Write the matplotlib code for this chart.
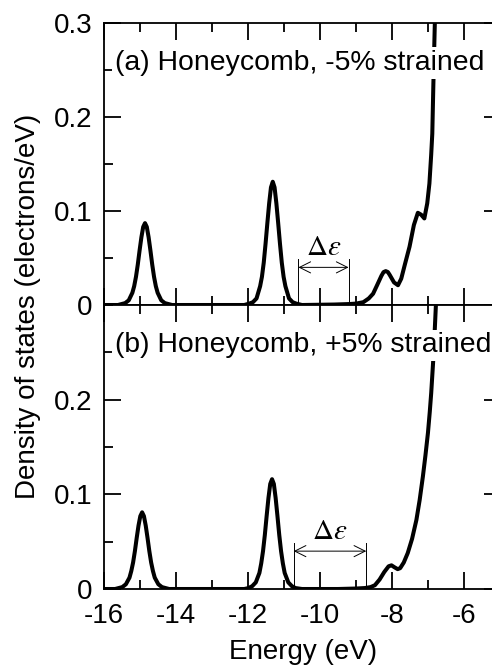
import matplotlib
matplotlib.use("Agg")
import matplotlib.pyplot as plt
from matplotlib.ticker import MultipleLocator

plt.rcParams['font.family'] = ['Liberation Sans', 'DejaVu Sans']
plt.rcParams['axes.unicode_minus'] = False
plt.rcParams['mathtext.fontset'] = 'stix'

# panel (a): -5% strained
energy_a = [-16.0, -15.6, -15.5, -15.4, -15.3, -15.2, -15.15, -15.1, -15.05, -15.0,
            -14.95, -14.9, -14.85, -14.8, -14.75, -14.7, -14.65, -14.6, -14.55, -14.5,
            -14.4, -14.3, -14.2, -14.1, -12.1,
            -11.96, -11.86, -11.76, -11.66, -11.61, -11.56, -11.51, -11.46, -11.41, -11.36,
            -11.31, -11.26, -11.21, -11.16, -11.11, -11.06, -11.01, -10.96, -10.86, -10.76,
            -10.66, -10.5, -9.6, -9.2, -9.0, -8.8, -8.65, -8.53, -8.42, -8.3,
            -8.24, -8.18, -8.12, -8.07, -7.95, -7.84, -7.75, -7.65, -7.52, -7.4,
            -7.29, -7.2, -7.11, -7.03, -6.97, -6.92, -6.89, -6.86, -6.82, -6.78]
dos_a = [0.0, 0.0, 0.001, 0.002, 0.005, 0.013, 0.020, 0.030, 0.043, 0.058,
         0.072, 0.083, 0.087, 0.083, 0.072, 0.058, 0.043, 0.030, 0.020, 0.013,
         0.005, 0.002, 0.001, 0.0, 0.0,
         0.0015, 0.003, 0.007, 0.020, 0.030, 0.045, 0.065, 0.087, 0.108, 0.125,
         0.131, 0.125, 0.108, 0.087, 0.065, 0.045, 0.030, 0.020, 0.007, 0.003,
         0.0015, 0.0, 0.0005, 0.001, 0.0015, 0.003, 0.007, 0.012, 0.021, 0.031,
         0.035, 0.036, 0.035, 0.032, 0.024, 0.021, 0.028, 0.043, 0.062, 0.085,
         0.098, 0.096, 0.092, 0.108, 0.129, 0.160, 0.182, 0.235, 0.299, 0.36]

# panel (b): +5% strained
energy_b = [-16.0, -15.68, -15.58, -15.48, -15.38, -15.28, -15.23, -15.18, -15.13, -15.08,
            -15.03, -14.98, -14.93, -14.88, -14.83, -14.78, -14.73, -14.68, -14.63, -14.58,
            -14.48, -14.38, -14.28, -14.18, -12.1,
            -11.98, -11.88, -11.78, -11.68, -11.63, -11.58, -11.53, -11.48, -11.43, -11.38,
            -11.33, -11.28, -11.23, -11.18, -11.13, -11.08, -11.03, -10.98, -10.88, -10.78,
            -10.68, -10.5, -9.5, -9.0, -8.76, -8.6, -8.48, -8.35, -8.22, -8.1,
            -8.02, -7.94, -7.85, -7.78, -7.68, -7.57, -7.45, -7.33, -7.24, -7.15,
            -7.08, -7.01, -6.96, -6.92, -6.86, -6.82, -6.79, -6.76]
dos_b = [0.0, 0.0, 0.001, 0.002, 0.005, 0.012, 0.019, 0.028, 0.040, 0.054,
         0.067, 0.077, 0.081, 0.077, 0.067, 0.054, 0.040, 0.028, 0.019, 0.012,
         0.005, 0.002, 0.001, 0.0, 0.0,
         0.001, 0.003, 0.007, 0.017, 0.027, 0.040, 0.057, 0.077, 0.096, 0.111,
         0.116, 0.111, 0.096, 0.077, 0.057, 0.040, 0.027, 0.017, 0.007, 0.003,
         0.001, 0.0, 0.0, 0.0005, 0.001, 0.002, 0.004, 0.010, 0.018, 0.024,
         0.025, 0.023, 0.021, 0.022, 0.028, 0.038, 0.053, 0.073, 0.094, 0.119,
         0.141, 0.165, 0.187, 0.207, 0.244, 0.275, 0.30, 0.34]

labels = ["(a) Honeycomb, -5% strained", "(b) Honeycomb, +5% strained"]
gap_a = [-10.60, -9.21]
gap_b = [-10.73, -8.72]

fig = plt.figure(figsize=(4.92, 6.68), dpi=100)
ax_a = fig.add_axes([103.5 / 492, 1 - 305 / 668, 397 / 492, 282.3 / 668])
ax_b = fig.add_axes([103.5 / 492, 1 - 589 / 668, 397 / 492, 284 / 668])

for ax, e, d, lab, gap, yt, ylab in [
        (ax_a, energy_a, dos_a, labels[0], gap_a, [0, 0.1, 0.2, 0.3], ['0', '0.1', '0.2', '0.3']),
        (ax_b, energy_b, dos_b, labels[1], gap_b, [0, 0.1, 0.2], ['0', '0.1', '0.2'])]:
    ax.plot(e, d, color='black', lw=2.9, solid_joinstyle='round')
    ax.set_xlim(-16, -5)
    ax.set_ylim(0, 0.3)
    ax.xaxis.set_major_locator(MultipleLocator(2))
    ax.xaxis.set_minor_locator(MultipleLocator(1))
    ax.set_yticks(yt)
    ax.set_yticklabels(ylab)
    ax.yaxis.set_minor_locator(MultipleLocator(0.05))
    ax.tick_params(which='both', direction='in', top=True, right=True, width=1.3,
                   labelsize=20)
    ax.tick_params(which='major', length=12)
    ax.tick_params(which='minor', length=6.5)
    ax.tick_params(axis='y', pad=8)
    ax.tick_params(axis='x', pad=10)
    for sp in ax.spines.values():
        sp.set_linewidth(1.3)
    ax.text(-15.68, 0.25, lab, fontsize=20.4, ha='left', va='baseline', zorder=5,
            bbox=dict(facecolor='white', edgecolor='none', pad=2))
    # gap bracket
    for g in gap:
        ax.plot([g, g], [0, 0.049], color='black', lw=0.7)
    ax.annotate('', xy=(gap[0], 0.04), xytext=(gap[1], 0.04),
                arrowprops=dict(arrowstyle='<->,head_length=0.8,head_width=0.4',
                                lw=0.7, color='black', shrinkA=0, shrinkB=0,
                                mutation_scale=10))
    ax.text((gap[0] + gap[1]) / 2, 0.047, r'$\Delta\varepsilon$', fontsize=21,
            ha='center', va='bottom')

ax_a.tick_params(axis='x', labelbottom=False)

fig.text(28 / 492, 1 - 306 / 668, 'Density of states (electrons/eV)', rotation=90,
         fontsize=20, ha='center', va='center')
fig.text(303.5 / 492, 1 - 652 / 668, 'Energy (eV)', fontsize=20, ha='center', va='center')

fig.savefig('out.png', dpi=100)
